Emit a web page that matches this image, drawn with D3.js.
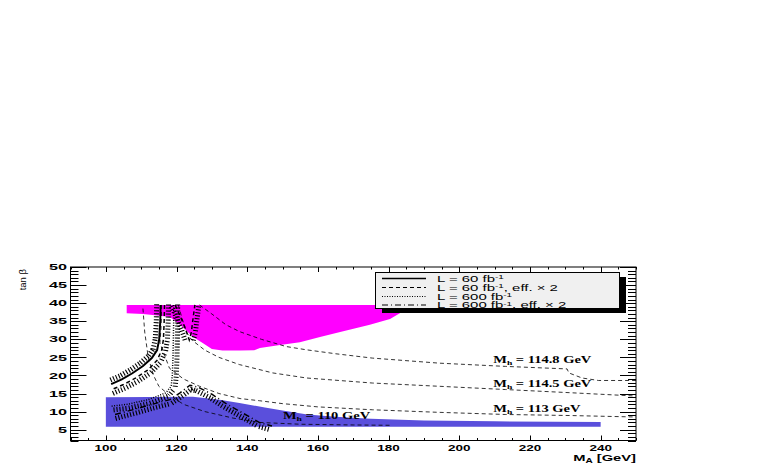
<!DOCTYPE html>
<html><head><meta charset="utf-8">
<script src="https://cdn.jsdelivr.net/npm/d3@7"></script>
<style>body{margin:0;background:#fff}svg{display:block}</style>
</head><body>
<script>
// ---------- data ----------
const xDomain = [90, 250];
const yDomain = [2, 50];
const xMajorTicks = [100, 120, 140, 160, 180, 200, 220, 240];
const yMajorTicks = [5, 10, 15, 20, 25, 30, 35, 40, 45, 50];

// magenta excluded region (top edge, then bottom edge back)
const magentaTop = [[105.9, 39.5], [186.5, 39.5]];
const magentaBottom = [[186.5, 39.5], [186.1, 39.2], [183.3, 37.3], [180.4, 35.6], [174.7, 34.0], [166.3, 32.0], [160.6, 30.6], [154.9, 29.2], [149.3, 28.4], [143.6, 27.6], [142, 27.0], [138, 26.9], [133, 26.9], [130, 27.3], [127.5, 28.9], [124.6, 30.7], [121, 34.0], [118.1, 36.2], [115.3, 36.5], [110.5, 37.0], [105.9, 37.2]];

// blue region
const blueTop = [[100, 14.0], [124.6, 14.1], [132.2, 13.3], [137.8, 12.4], [145, 11.1], [150, 10.3], [157, 9.2], [165, 8.6], [175, 8.0], [190, 7.5], [210, 7.3], [240, 7.1]];
const blueBottom = [[240, 5.8], [100, 5.8]];

// M_h isolines
const mh1148 = [[126.5, 39.5], [130, 37], [134, 34], [137.9, 32.1], [144, 30], [151, 28], [156.7, 27.1], [165, 26], [175.4, 24.8], [194.3, 23.4], [213.1, 22.5], [230.5, 21.8], [231, 20.7], [234.7, 19.3], [239.4, 18.6], [250, 18.6]];
const mh1145 = [[120.5, 39.5], [121.5, 36], [122.8, 32], [124.2, 29.9], [128, 27], [132, 25], [137.8, 23], [147.2, 20.7], [156.7, 19.3], [175.4, 17.9], [194.3, 17.0], [213.1, 16.1], [231.8, 15.2], [250, 14.3]];
const mh113 = [[115.8, 39.5], [115.6, 33], [115.3, 29], [118, 22], [122, 19], [126.5, 17], [132, 15], [138, 13.6], [143.5, 13], [150, 12.2], [160, 11.3], [175.4, 10.5], [194, 9.8], [213, 9.2], [231.8, 8.9], [250, 8.5]];
const mh110 = [[110.5, 38.5], [111, 32], [112, 25], [113.5, 20], [115, 17], [118, 14.5], [122, 12], [128, 10], [136, 8.2], [143.5, 7.0], [155, 6.5], [170, 6.3], [181, 6.2]];
const isoLabels = [
  {name: "M", sub: "h", rest: " = 114.8 GeV", at: [209.6, 23.5]},
  {name: "M", sub: "h", rest: " = 114.5 GeV", at: [209.6, 16.7]},
  {name: "M", sub: "h", rest: " = 113 GeV", at: [209.6, 10.0]},
  {name: "M", sub: "h", rest: " = 110 GeV", at: [150.1, 7.9]}
];

// 5-sigma discovery contours (hatched)
const contSolid = [[115.5, 39.5], [115.4, 35], [115.1, 30], [114.5, 27], [113, 24.8], [110.5, 22.6], [107.5, 20.6], [104.5, 18.9], [101.5, 17.6]];
const contDashed = [[116.6, 39.5], [116.5, 35], [116.3, 30], [115.8, 27], [114.5, 24.2], [112, 21.6], [108.5, 19.3], [105, 17.5], [101.5, 16.0]];
const contDotted = [[119.2, 39.5], [119.2, 35], [119.1, 30], [119, 25], [118.8, 20], [118.5, 17], [117, 15.2], [112, 13.3], [106, 12.0], [101.6, 11.5]];
const contDashDot = [[102.6, 9.2], [108, 10.6], [113, 12.0], [118.1, 13.3], [121, 15.2], [123.8, 17.3], [126, 16.8], [130, 14.8], [133.7, 12.4], [138, 10.0], [143.6, 6.9], [147, 6.0]];
const contV = [[119.6, 39.5], [121, 36.5], [122.5, 33], [123.6, 29.8], [124.2, 32], [124.7, 36], [125.2, 39.5]];

const legendLabels = [
  {main: "L = 60 fb", sup: "-1", tail: ""},
  {main: "L = 60 fb", sup: "-1", tail: ", eff. \u00d7 2"},
  {main: "L = 600 fb", sup: "-1", tail: ""},
  {main: "L = 600 fb", sup: "-1", tail: ", eff. \u00d7 2"}
];
const legendDash = [null, "4,3", "1,1.5", "6,3,1,3"];

// ---------- drawing ----------
const W = 763, H = 463;
const svg = d3.select("body").append("svg").attr("width", W).attr("height", H);
svg.append("rect").attr("width", W).attr("height", H).attr("fill", "#fff");

const x = d3.scaleLinear().domain(xDomain).range([70.5, 636]);
const y = d3.scaleLinear().domain(yDomain).range([440.5, 267]);
const line = d3.line().x(d => x(d[0])).y(d => y(d[1]));

const plot = svg.append("g");
plot.append("defs").append("clipPath").attr("id", "clip")
  .append("rect").attr("x", 70.5).attr("y", 267).attr("width", 636 - 70.5).attr("height", 440.5 - 267);
const inner = plot.append("g").attr("clip-path", "url(#clip)");

// regions
inner.append("path").attr("d", line(magentaTop.concat(magentaBottom)) + "Z").attr("fill", "#ff00ff");
inner.append("path").attr("d", line(blueTop.concat(blueBottom)) + "Z").attr("fill", "#5a4fdc");

// isolines
[mh1148, mh1145, mh113, mh110].forEach(pts => {
  inner.append("path").attr("d", line(pts)).attr("fill", "none")
    .attr("stroke", "#000").attr("stroke-width", 0.8).attr("stroke-dasharray", "4,3");
});

// hatched contours
function hatch(pts, side, dash, lw) {
  const sp = pts.map(d => [x(d[0]), y(d[1])]);
  const g = inner.append("g");
  g.append("path").attr("d", d3.line()(sp)).attr("fill", "none").attr("stroke", "#000")
    .attr("stroke-width", lw).attr("stroke-dasharray", dash);
  const step = 3, len = 6.5;
  let carry = 0;
  for (let i = 0; i < sp.length - 1; i++) {
    const [x0, y0] = sp[i], [x1, y1] = sp[i + 1];
    const segL = Math.hypot(x1 - x0, y1 - y0);
    const tx = (x1 - x0) / segL, ty = (y1 - y0) / segL;
    const nx = -ty * side, ny = tx * side;
    let s = carry;
    while (s < segL) {
      const px = x0 + tx * s, py = y0 + ty * s;
      g.append("line").attr("x1", px + nx * 1.5).attr("y1", py + ny * 1.5)
        .attr("x2", px + nx * len).attr("y2", py + ny * len)
        .attr("stroke", "#000").attr("stroke-width", 1.1);
      s += step;
    }
    carry = s - segL;
  }
}
hatch(contSolid, 1, null, 2);
hatch(contDashed, -1, "4,3", 1.5);
hatch(contDotted, -1, "1,1.5", 1.5);
hatch(contDashDot, 1, "6,3,1,3", 1.5);
hatch(contV, 1, "4,3", 1.5);

// isoline labels
isoLabels.forEach(l => {
  const t = inner.append("text").attr("font-family", "Liberation Serif, Times New Roman, serif")
    .attr("font-weight", "bold").attr("font-size", 10.5)
    .attr("transform", `translate(${x(l.at[0])},${y(l.at[1])}) scale(1.38,1)`);
  t.append("tspan").text(l.name);
  t.append("tspan").attr("font-size", 7).attr("dy", 2).text(l.sub);
  t.append("tspan").attr("dy", -2).text(l.rest);
});

// frame
plot.append("rect").attr("x", 70.5).attr("y", 267).attr("width", 636 - 70.5).attr("height", 440.5 - 267)
  .attr("fill", "none").attr("stroke", "#000").attr("stroke-width", 1);

// ticks
const axG = svg.append("g").attr("stroke", "#000").attr("stroke-width", 1);
const yMinor = d3.range(yDomain[0], yDomain[1] + 0.001, 1);
yMinor.forEach(v => {
  const major = yMajorTicks.includes(v);
  const L = major ? 16 : 8;
  const yy = Math.round(y(v)) + 0.5;
  axG.append("line").attr("x1", 70.5).attr("x2", 70.5 + L).attr("y1", yy).attr("y2", yy);
  axG.append("line").attr("x1", 636).attr("x2", 636 - L).attr("y1", yy).attr("y2", yy);
});
const xMinor = d3.range(xDomain[0], xDomain[1] + 0.001, 5);
xMinor.forEach(v => {
  const major = xMajorTicks.includes(v);
  const L = major ? 5 : 2.5;
  const xx = Math.round(x(v)) + 0.5;
  axG.append("line").attr("x1", xx).attr("x2", xx).attr("y1", 440.5).attr("y2", 440.5 - L);
  axG.append("line").attr("x1", xx).attr("x2", xx).attr("y1", 267).attr("y2", 267 + L);
});

// tick labels
const lab = svg.append("g").attr("font-family", "Liberation Sans, Arial, sans-serif")
  .attr("font-weight", "bold").attr("font-size", 9).attr("fill", "#000");
xMajorTicks.forEach(v => {
  lab.append("text").attr("text-anchor", "middle")
    .attr("transform", `translate(${x(v)},450.5) scale(1.5,1)`).text(v);
});
yMajorTicks.forEach(v => {
  lab.append("text").attr("text-anchor", "end")
    .attr("transform", `translate(67,${y(v) + 3.2}) scale(1.8,1)`).text(v);
});

// axis titles
const xt = lab.append("text").attr("text-anchor", "end").attr("font-size", 9.5)
  .attr("transform", `translate(636,461) scale(1.55,1)`);
xt.append("tspan").text("M");
xt.append("tspan").attr("font-size", 6.5).attr("dy", 1.5).text("A");
xt.append("tspan").attr("dy", -1.5).text(" [GeV]");

lab.append("text").attr("text-anchor", "end").attr("font-weight", "normal").attr("font-size", 9.5)
  .attr("transform", `translate(26,269) rotate(-90)`).text("tan \u03b2");

// legend
const lx = 375, ly = 272, lw = 244, lh = 36;
svg.append("rect").attr("x", lx + 7).attr("y", ly + 5).attr("width", lw).attr("height", lh).attr("fill", "#000");
svg.append("rect").attr("x", lx + 0.5).attr("y", ly + 0.5).attr("width", lw).attr("height", lh)
  .attr("fill", "#f0f0f0").attr("stroke", "#000").attr("stroke-width", 1);
const rowY = [278.5, 287.5, 296.5, 305];
legendLabels.forEach((l, i) => {
  svg.append("line").attr("x1", 382).attr("x2", 426).attr("y1", rowY[i]).attr("y2", rowY[i])
    .attr("stroke", "#000").attr("stroke-width", i === 0 ? 1.5 : 1.2)
    .attr("stroke-dasharray", legendDash[i]);
  const t = svg.append("text").attr("font-family", "Liberation Sans, Arial, sans-serif")
    .attr("font-size", 8.3).attr("transform", `translate(437,${rowY[i] + 3.1}) scale(1.8,1)`);
  t.append("tspan").text(l.main);
  t.append("tspan").attr("font-size", 5.5).attr("dy", -2.6).text(l.sup);
  t.append("tspan").attr("dy", 2.6).text(l.tail);
});
</script>
</body></html>
